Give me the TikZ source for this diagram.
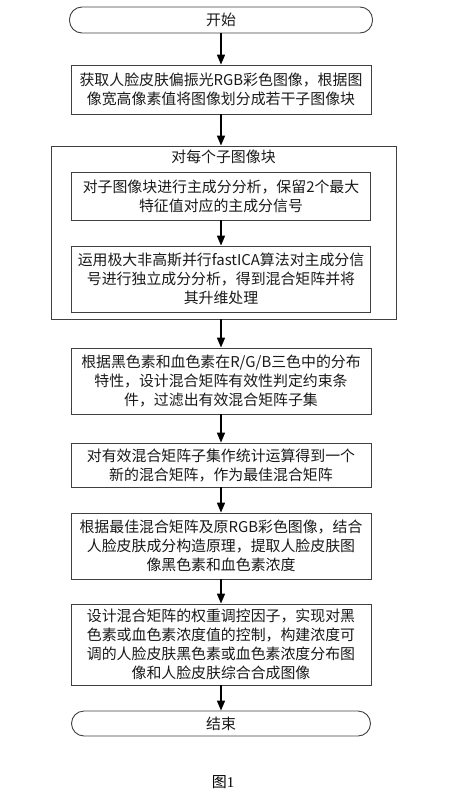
\documentclass[tikz,border=0pt]{standalone}
\usepackage{fontspec}
\setmainfont{Noto Sans CJK SC}
\newfontfamily\capserif{Liberation Serif}
\usetikzlibrary{arrows.meta}
\begin{document}
\begin{tikzpicture}[x=1pt,y=1pt,
  box/.style={draw=black!75, line width=0.9pt, align=center, inner sep=0pt,
    font=\fontsize{14.9}{19}\selectfont, text=black!90},
  term/.style={box, rounded corners=12.5pt},
  arr/.style={line width=1.6pt, -{Triangle[length=10pt,width=8pt]}}]
\useasboundingbox (0,0) rectangle (460,-798);
\node[term, minimum width=303, minimum height=26] (start) at (221,-20) {开始};
\node[box, minimum width=300, minimum height=49] (b1) at (221,-89.5)
  {获取人脸皮肤偏振光RGB彩色图像，根据图\\像宽高像素值将图像划分成若干子图像块};
\node[box, minimum width=345, minimum height=173] (outer) at (223.5,-232.5) {};
\node[font=\fontsize{14.9}{19}\selectfont, text=black!90] (title) at (223.5,-157) {对每个子图像块};
\node[box, minimum width=299, minimum height=48] (i1) at (221,-196)
  {对子图像块进行主成分分析，保留2个最大\\特征值对应的主成分信号};
\node[box, minimum width=299, minimum height=66] (i2) at (221,-279)
  {运用极大非高斯并行fastICA算法对主成分信\\号进行独立成分分析，得到混合矩阵并将\\其升维处理};
\node[box, minimum width=300, minimum height=66] (b3) at (221,-381)
  {根据黑色素和血色素在R/G/B三色中的分布\\特性，设计混合矩阵有效性判定约束条\\件，过滤出有效混合矩阵子集};
\node[box, minimum width=300, minimum height=44] (b4) at (221,-465)
  {对有效混合矩阵子集作统计运算得到一个\\新的混合矩阵，作为最佳混合矩阵};
\node[box, minimum width=300, minimum height=66] (b5) at (221,-546)
  {根据最佳混合矩阵及原RGB彩色图像，结合\\人脸皮肤成分构造原理，提取人脸皮肤图\\像黑色素和血色素浓度};
\node[box, minimum width=300, minimum height=81] (b6) at (221,-644.5)
  {设计混合矩阵的权重调控因子，实现对黑\\色素或血色素浓度值的控制，构建浓度可\\调的人脸皮肤黑色素或血色素浓度分布图\\像和人脸皮肤综合合成图像};
\node[term, minimum width=299, minimum height=25] (end) at (221,-723.5) {结束};
\node[font=\fontsize{15}{18}\selectfont] (cap) at (223,-782) {图{\capserif 1}};
\draw[arr] (start) -- (b1);
\draw[arr] (b1.south) -- (b1.south |- outer.north);
\draw[arr] (i1) -- (i2);
\draw[arr] (outer.south -| b3.north) -- (b3.north);
\draw[arr] (b3) -- (b4);
\draw[arr] (b4) -- (b5);
\draw[arr] (b5) -- (b6);
\draw[arr] (b6) -- (end);
\end{tikzpicture}
\end{document}
